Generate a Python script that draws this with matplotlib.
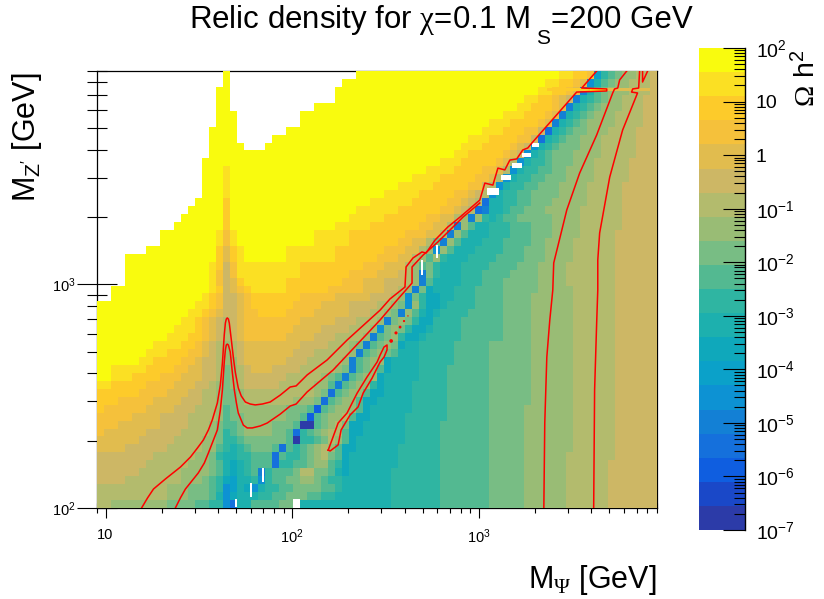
import numpy as np
import matplotlib
matplotlib.use("Agg")
import matplotlib.pyplot as plt
from matplotlib.colors import ListedColormap
from matplotlib.patches import Rectangle
from matplotlib.ticker import LogLocator, NullFormatter

plt.rcParams["font.family"] = ["Liberation Sans", "DejaVu Sans"]
plt.rcParams["mathtext.fontset"] = "custom"
plt.rcParams["mathtext.rm"] = "Liberation Sans"
plt.rcParams["mathtext.cal"] = "Liberation Serif"
plt.rcParams["mathtext.default"] = "regular"

# 20 colour levels, one per 0.45 in log10(omega h2), from 1e-7 to 1e2
level_colors = ["#2c3ba8", "#1a48c8", "#0f5ee0", "#1570dc", "#1380d5", "#0d92d3", "#0ba1c9",
                "#0fa8bb", "#1db0ae", "#2fb5a2", "#53b991", "#78bd84", "#99bc75", "#b3bb6d",
                "#cdb765", "#e1bc4e", "#f5c13b", "#fdcb2a", "#fbe023", "#f9fb0e"]
level_chars = "0123456789abcdefghij"

# level per row (top to bottom) as "level:end column", '.' = empty bin
level_rows = [
    ".:18 j:19 .:37 j:66 i:68 h:70 g:71 6:72 9:73 a:74 b:75 c:77 d:79 e:80",
    ".:18 j:19 .:35 j:64 i:66 h:68 g:69 f:70 5:71 8:72 a:73 b:74 c:76 d:79 e:80",
    ".:17 j:19 .:34 j:63 i:65 h:67 g:68 f:69 4:70 8:71 a:72 b:73 c:76 d:79 e:80",
    ".:17 j:19 .:34 j:61 i:63 h:65 g:66 f:67 e:68 4:69 8:70 9:71 a:72 b:73 c:75 d:78 e:80",
    ".:17 j:19 .:31 j:60 i:62 h:65 g:66 f:67 4:68 8:69 9:70 a:71 b:72 c:75 d:78 e:80",
    ".:17 j:20 .:29 j:58 i:61 h:64 g:65 f:66 4:67 8:68 9:69 a:70 b:71 c:74 d:78 e:80",
    ".:17 j:20 .:29 j:56 i:59 h:63 g:64 f:65 4:66 8:67 9:68 a:69 b:70 c:74 d:78 e:80",
    ".:16 j:20 .:27 j:55 i:58 h:61 g:63 e:64 3:65 8:66 9:67 a:68 b:70 c:73 d:77 e:80",
    ".:16 j:20 .:25 j:53 i:56 h:60 g:62 e:63 3:64 8:65 9:66 a:67 b:69 c:72 d:77 e:80",
    ".:16 j:21 .:24 j:52 i:55 h:59 g:60 f:61 e:62 5:63 8:64 9:65 a:66 b:69 c:72 d:77 e:80",
    ".:16 j:51 i:53 h:58 g:59 f:60 e:61 5:62 8:63 9:64 a:65 b:68 c:72 d:77 e:80",
    ".:15 j:49 i:52 h:57 g:58 f:59 d:60 5:61 8:62 9:64 a:65 b:68 c:71 d:76 e:80",
    ".:15 j:18 i:19 j:47 i:51 h:55 g:57 f:58 d:59 5:60 8:61 9:63 a:65 b:67 c:71 d:76 e:80",
    ".:15 j:18 i:19 j:45 i:49 h:54 g:56 f:57 d:58 5:59 8:60 9:62 a:64 b:67 c:71 d:76 e:80",
    ".:15 j:18 i:19 j:43 i:48 h:53 g:55 e:56 d:57 5:58 8:59 9:61 a:63 b:66 c:70 d:75 e:80",
    ".:15 j:18 i:19 j:41 i:46 h:51 g:53 f:54 e:55 d:56 5:57 8:58 9:60 a:62 b:66 c:70 d:75 e:80",
    ".:14 j:18 h:19 j:39 i:45 h:50 g:52 f:53 e:54 d:55 3:56 8:58 9:60 a:62 b:65 c:70 d:75 e:80",
    ".:13 j:18 h:19 j:37 i:43 h:49 g:51 f:52 e:53 d:54 3:55 4:56 8:58 9:59 a:61 b:64 c:69 d:75 e:80",
    ".:12 j:18 h:19 j:36 i:41 h:47 g:49 f:51 d:52 c:53 4:54 c:55 9:56 8:57 9:58 a:60 b:65 c:69 d:75 e:80",
    ".:11 j:18 h:19 j:34 i:39 h:46 g:48 f:50 d:51 4:52 c:53 a:54 8:56 9:59 a:62 b:65 c:69 d:75 e:80",
    ".:9 j:17 i:18 g:19 i:20 j:31 i:36 h:44 g:47 f:49 d:50 4:51 c:52 a:53 8:56 9:59 a:62 b:65 c:69 d:74 e:80",
    ".:9 j:17 i:18 g:19 i:20 j:31 i:36 h:43 g:45 f:47 d:48 b:49 4:50 c:51 a:52 8:55 9:58 a:62 b:64 c:68 d:74 e:80",
    ".:7 j:17 h:18 f:19 h:20 i:21 j:27 i:34 h:41 g:44 f:46 d:47 c:48 5:49 c:50 a:51 8:54 9:58 a:61 b:64 c:68 d:74 e:80",
    ".:4 j:17 h:18 f:19 h:20 i:21 j:27 i:34 h:40 g:43 f:45 d:46 c:47 a:48 c:49 9:50 8:53 9:57 a:61 b:64 c:68 d:74 e:80",
    ".:4 j:16 i:17 h:18 e:19 g:20 i:29 h:38 g:41 f:44 d:45 c:46 a:47 b:48 9:49 8:52 9:56 a:60 b:63 c:67 d:74 e:80",
    ".:4 j:16 i:17 g:18 e:19 g:20 i:29 h:36 g:40 f:43 e:44 d:45 c:46 4:47 b:48 9:49 8:52 9:55 a:59 b:63 c:67 d:74 e:80",
    ".:4 j:16 i:17 g:18 e:19 f:20 h:21 i:27 h:35 g:38 f:41 e:44 d:45 c:46 4:47 a:48 8:52 9:55 a:58 b:63 c:67 d:74 e:80",
    ".:2 j:16 i:17 h:18 e:19 f:20 g:21 h:22 i:27 h:33 g:38 f:41 e:43 d:44 c:45 4:46 b:47 7:48 8:51 9:54 a:58 b:63 c:68 d:74 e:80",
    ".:2 j:15 i:16 h:17 g:18 e:20 f:21 g:22 h:29 g:34 f:39 e:42 d:43 c:44 5:45 b:46 9:47 7:49 8:51 9:54 a:58 b:62 c:68 d:74 e:80",
    "j:14 i:16 h:17 g:18 e:20 f:21 g:22 h:28 g:32 f:36 e:40 d:42 c:43 b:44 5:45 c:46 9:47 7:49 8:50 9:54 a:58 b:62 c:68 d:74 e:80",
    "j:13 i:15 h:16 g:17 f:18 e:20 f:21 g:23 h:27 g:31 f:36 e:39 d:41 c:42 b:43 4:44 c:45 a:46 8:47 7:48 8:49 9:53 a:58 b:62 c:68 d:74 e:80",
    "j:12 i:14 h:15 g:16 f:17 e:18 d:19 e:20 f:21 g:29 f:34 e:37 d:40 c:41 4:42 b:43 c:44 b:45 9:46 7:48 9:52 a:58 b:62 c:68 d:74 e:80",
    "j:11 i:14 h:15 g:16 f:17 e:18 d:19 e:20 f:21 g:28 f:32 e:36 d:39 c:40 5:41 b:42 c:43 b:44 9:45 7:47 8:48 9:52 a:58 b:62 c:68 d:74 e:80",
    "j:10 i:13 h:15 g:16 f:17 e:18 d:19 e:20 f:21 g:27 f:31 e:34 d:38 c:39 4:40 a:41 b:42 c:43 9:44 7:46 8:47 9:52 a:58 b:62 c:68 d:74 e:80",
    "j:8 i:12 h:14 g:15 f:16 e:17 d:18 c:19 d:20 e:21 f:29 e:33 d:36 c:37 b:38 4:39 a:40 b:41 c:42 b:43 7:44 8:46 9:51 a:56 b:62 c:68 d:74 e:80",
    "j:7 i:10 h:13 g:15 f:16 e:17 d:18 c:19 d:20 e:21 f:28 e:31 d:36 c:37 4:38 a:39 b:40 c:41 b:42 a:43 8:46 9:51 a:56 b:62 c:68 d:74 e:80",
    "j:6 i:8 h:12 g:14 f:15 e:17 d:18 c:20 e:21 f:27 e:30 d:35 c:36 4:37 a:38 b:39 c:41 7:42 8:46 9:51 a:56 b:62 c:68 d:74 e:80",
    "j:2 i:7 h:11 g:13 f:15 e:17 d:18 b:19 c:20 d:21 e:22 f:25 e:29 d:34 c:35 b:36 4:37 a:38 b:39 c:40 a:41 7:42 8:46 9:50 a:56 b:62 c:68 d:74 e:80",
    "j:2 i:5 h:9 g:12 f:15 e:17 d:18 b:19 c:20 d:21 e:27 d:32 c:33 b:34 a:35 4:36 a:37 b:38 c:40 7:41 8:46 9:50 a:56 b:62 c:68 d:74 e:80",
    "i:2 h:7 g:11 f:14 e:16 d:17 c:18 b:19 c:20 d:21 e:26 d:31 c:33 a:34 4:35 a:36 b:37 c:39 9:40 7:41 8:45 9:50 a:56 b:62 c:68 d:74 e:80",
    "h:6 g:10 f:13 e:15 d:17 c:18 b:20 c:21 d:31 c:32 b:33 3:34 a:35 b:36 c:38 a:39 7:41 8:45 9:50 a:56 b:62 c:68 d:74 e:80",
    "h:3 g:8 f:12 e:15 d:17 c:18 b:20 c:21 d:28 c:31 b:32 3:33 a:34 b:35 c:37 a:38 7:40 8:45 9:50 a:56 b:62 c:68 d:74 e:80",
    "h:1 g:7 f:11 e:14 d:17 c:18 a:19 b:20 c:27 b:30 a:31 2:32 a:33 b:34 c:37 a:38 7:39 8:45 9:50 a:56 b:61 c:68 d:74 e:80",
    "g:5 f:9 e:13 d:17 c:18 a:19 b:21 c:27 b:29 a:30 2:31 a:32 b:33 c:35 d:36 a:37 7:39 8:44 9:50 a:56 b:61 c:68 d:74 e:80",
    "g:3 f:9 e:13 d:16 c:17 b:18 a:20 b:21 c:25 b:28 a:29 0:31 a:32 b:33 c:34 d:35 b:36 7:38 8:44 9:49 a:56 b:61 c:68 d:74 e:80",
    "g:1 f:7 e:12 d:16 c:17 b:18 9:19 a:20 b:21 c:25 b:27 a:28 3:29 9:30 a:31 b:32 c:33 d:35 a:36 7:38 8:44 9:49 a:56 b:61 c:68 d:74 e:80",
    "f:6 e:11 d:15 c:17 b:18 9:20 a:21 b:27 a:28 0:29 9:31 a:32 b:33 d:34 c:35 a:36 7:37 8:44 9:49 a:56 b:61 c:68 d:74 e:80",
    "f:4 e:10 d:15 c:17 a:18 9:19 8:20 9:21 a:22 b:25 a:26 3:27 a:28 9:29 a:30 b:31 c:32 d:33 c:34 a:35 7:37 8:43 9:49 a:56 b:61 c:68 d:74 e:80",
    "e:8 d:14 c:16 b:17 9:18 8:20 9:22 a:25 3:26 a:27 9:29 a:30 b:31 c:32 d:33 b:34 a:35 7:36 8:43 9:49 a:56 b:61 c:67 d:74 e:80",
    "e:7 d:13 c:16 b:17 a:18 8:19 7:20 8:21 9:22 a:25 3:26 9:28 a:30 b:31 c:33 a:34 9:35 7:36 8:43 9:49 a:56 b:61 c:67 d:73 e:80",
    "e:6 d:12 c:16 b:17 a:18 8:19 7:20 8:21 9:22 a:23 4:24 9:25 a:28 b:29 d:31 b:33 a:34 8:35 7:36 8:42 9:49 a:56 b:61 c:67 d:73 e:80",
    "e:4 d:12 c:15 b:16 a:17 9:18 7:19 6:20 8:22 9:23 5:24 9:25 a:27 b:29 c:31 b:32 a:33 9:35 8:42 9:49 a:56 b:61 c:67 d:73 e:80",
    "d:10 c:13 b:16 a:17 9:18 5:19 6:20 8:21 7:22 5:23 8:24 9:26 a:28 b:32 a:34 9:35 8:42 9:49 a:56 b:61 c:67 d:73 e:80",
    "d:10 c:13 b:16 a:17 8:18 5:19 7:20 8:23 9:25 a:27 b:30 a:32 9:34 8:42 9:49 a:56 b:61 c:67 d:73 e:80",
    "d:2 c:10 b:14 a:16 9:18 5:19 3:20 8:22 a:26 b:28 8:42 9:49 a:56 b:61 c:67 d:73 e:80",
]

# empty bins narrower than a grid cell: log10 of x0, x1, y0, y1 in GeV
hole_bins = [
    (3.043, 3.107, 3.400, 3.431), (3.118, 3.171, 3.467, 3.489), (3.177, 3.230, 3.520, 3.543),
    (3.230, 3.278, 3.570, 3.588), (3.284, 3.321, 3.614, 3.632), (2.690, 2.701, 3.042, 3.109),
    (2.770, 2.781, 3.118, 3.176), (1.775, 1.786, 2.049, 2.112), (1.840, 1.850, 2.116, 2.179),
    (1.695, 1.706, 2.004, 2.040), (2.005, 2.043, 2.000, 2.040),
]

# thin resonance strip near MZ' = 7.4 TeV
strip_logx = [3.364, 3.594, 3.685, 3.915]
strip_logy = [3.865, 3.878]
strip_levels = [17, 19, 15]

# contours, log10 of the masses in GeV
upper_logx = [1.193, 1.225, 1.257, 1.321, 1.401, 1.455, 1.492, 1.524, 1.551, 1.572, 1.599, 1.615, 1.626, 1.636,
              1.642, 1.647, 1.652, 1.658, 1.663, 1.674, 1.685, 1.695, 1.711, 1.727, 1.749, 1.775, 1.802, 1.840,
              1.882, 1.936, 1.989, 2.021, 2.080, 2.187, 2.294, 2.471, 2.524, 2.604, 2.610, 2.647, 2.695, 2.717,
              2.765, 2.834, 2.899, 3.005, 3.032, 3.075, 3.102, 3.139, 3.166, 3.203, 3.235, 3.262, 3.289, 3.524,
              3.685, 3.685, 3.551, 3.631]
upper_logy = [2.000, 2.045, 2.085, 2.130, 2.183, 2.228, 2.268, 2.304, 2.349, 2.394, 2.470, 2.550, 2.648, 2.774,
              2.827, 2.845, 2.850, 2.845, 2.827, 2.751, 2.671, 2.608, 2.537, 2.501, 2.474, 2.465, 2.461, 2.465,
              2.474, 2.505, 2.541, 2.546, 2.595, 2.662, 2.751, 2.885, 2.935, 2.988, 3.078, 3.118, 3.145, 3.140,
              3.198, 3.257, 3.301, 3.377, 3.453, 3.444, 3.520, 3.512, 3.556, 3.561, 3.601, 3.610, 3.637, 3.860,
              3.865, 3.874, 3.878, 3.954]
lower_logx = [1.374, 1.401, 1.428, 1.497, 1.529, 1.551, 1.572, 1.599, 1.615, 1.626, 1.636, 1.642, 1.647, 1.652,
              1.658, 1.668, 1.679, 1.690, 1.701, 1.711, 1.738, 1.759, 1.786, 1.829, 1.866, 1.936, 1.989, 2.021,
              2.080, 2.219, 2.471, 2.567, 2.642, 2.642, 2.701, 2.781, 2.856, 2.915, 3.005]
lower_logy = [2.000, 2.045, 2.085, 2.157, 2.201, 2.246, 2.291, 2.349, 2.438, 2.528, 2.653, 2.707, 2.729, 2.733,
              2.729, 2.698, 2.608, 2.528, 2.470, 2.425, 2.371, 2.358, 2.358, 2.367, 2.380, 2.420, 2.456, 2.465,
              2.519, 2.617, 2.841, 2.935, 3.006, 3.078, 3.131, 3.190, 3.252, 3.301, 3.364]
blob_logx = [2.193, 2.219, 2.246, 2.294, 2.348, 2.401, 2.455, 2.471, 2.492, 2.508, 2.508, 2.492, 2.471, 2.428,
             2.380, 2.353, 2.310, 2.262, 2.246, 2.203, 2.193]
blob_logy = [2.259, 2.318, 2.380, 2.425, 2.514, 2.586, 2.653, 2.684, 2.720, 2.729, 2.707, 2.675, 2.653, 2.581,
             2.514, 2.452, 2.416, 2.349, 2.282, 2.255, 2.259]
right1_logx = [3.348, 3.353, 3.364, 3.380, 3.396, 3.401, 3.471, 3.540, 3.631, 3.717, 3.727, 3.744, 3.754, 3.792]
right1_logy = [2.000, 2.380, 2.675, 2.841, 2.975, 3.096, 3.333, 3.498, 3.668, 3.856, 3.874, 3.878, 3.914, 3.954]
right2_logx = [3.615, 3.620, 3.631, 3.637, 3.637, 3.647, 3.701, 3.770, 3.850, 3.818, 3.824, 3.856, 3.861]
right2_logy = [2.000, 2.528, 2.827, 2.975, 3.109, 3.230, 3.480, 3.690, 3.856, 3.860, 3.874, 3.878, 3.954]
corner_logx = [3.877, 3.877, 3.904]
corner_logy = [3.954, 3.905, 3.954]
dot_logx = [2.530, 2.556, 2.578, 2.599, 2.620]
dot_logy = [2.747, 2.783, 2.809, 2.836, 2.859]
dot_sizes = [7, 5, 4, 2.5, 1]

x_ticks = [10, 100, 1000]
x_tick_labels = ["10", "10$^{2}$", "10$^{3}$"]
y_ticks = [100, 1000]
y_tick_labels = ["10$^{2}$", "10$^{3}$"]
bar_ticks = [1e-7, 1e-6, 1e-5, 1e-4, 1e-3, 1e-2, 1e-1, 1, 10, 100]
bar_tick_labels = ["10$^{-7}$", "10$^{-6}$", "10$^{-5}$", "10$^{-4}$", "10$^{-3}$", "10$^{-2}$", "10$^{-1}$",
                   "1", "10", "10$^{2}$"]


def expand(row):
    cells = []
    for token in row.split():
        ch, end = token.split(":")
        value = np.nan if ch == "." else level_chars.index(ch)
        cells += [value] * (int(end) - len(cells))
    return cells


levels = np.array([expand(r) for r in level_rows], dtype=float)
x_edges = np.geomspace(9, 9000, levels.shape[1] + 1)
y_edges = np.geomspace(9000, 100, levels.shape[0] + 1)
cmap = ListedColormap(level_colors)
cmap.set_bad((1, 1, 1, 0))

W, H = 824, 599
fig = plt.figure(figsize=(W / 100, H / 100), dpi=100)
ax = fig.add_axes([97 / W, 1 - 508 / H, 560 / W, 437 / H])
ax.set_xscale("log")
ax.set_yscale("log")
ax.set_axisbelow(True)
ax.pcolormesh(x_edges, y_edges, levels, cmap=cmap, vmin=-0.5, vmax=19.5, zorder=1, linewidth=0, rasterized=True)
ax.pcolormesh(10 ** np.array(strip_logx), 10 ** np.array(strip_logy), np.array([strip_levels]),
              cmap=cmap, vmin=-0.5, vmax=19.5, zorder=1.2)
for x0, x1, y0, y1 in hole_bins:
    ax.add_patch(Rectangle((10 ** x0, 10 ** y0), 10 ** x1 - 10 ** x0, 10 ** y1 - 10 ** y0,
                           fc="white", ec="none", zorder=1.5))

for lx, ly in [(upper_logx, upper_logy), (lower_logx, lower_logy), (blob_logx, blob_logy),
               (right1_logx, right1_logy), (right2_logx, right2_logy), (corner_logx, corner_logy)]:
    ax.plot(10 ** np.array(lx), 10 ** np.array(ly), color="#ff0000", lw=1.1, zorder=3)
ax.scatter(10 ** np.array(dot_logx), 10 ** np.array(dot_logy), s=dot_sizes, color="#ff0000", lw=0, zorder=3)

ax.set_xlim(9, 9000)
ax.set_ylim(100, 9000)
for side, spine in ax.spines.items():
    spine.set_zorder(0.5)
    spine.set_linewidth(0.9)
ax.set_xticks(x_ticks, x_tick_labels)
ax.set_yticks(y_ticks, y_tick_labels)
ax.xaxis.set_minor_locator(LogLocator(10, subs=np.arange(2, 10), numticks=12))
ax.yaxis.set_minor_locator(LogLocator(10, subs=np.arange(2, 10), numticks=12))
ax.xaxis.set_minor_formatter(NullFormatter())
ax.yaxis.set_minor_formatter(NullFormatter())
ax.tick_params(axis="x", which="major", direction="inout", length=14.4, width=0.8, labelsize=10.5, pad=7)
ax.tick_params(axis="x", which="minor", direction="inout", length=7.2, width=0.8)
ax.tick_params(axis="y", which="major", direction="inout", length=28.8, width=0.8, labelsize=10.5, pad=1)
ax.tick_params(axis="y", which="minor", direction="inout", length=14.4, width=0.8)

# colour bar
cax = fig.add_axes([699 / W, 1 - 530 / H, 45.5 / W, 482 / H])
bar_edges = 10.0 ** np.linspace(-7, 2, 21)
cax.set_yscale("log")
cax.pcolormesh([0, 1], bar_edges, np.arange(20).reshape(-1, 1), cmap=cmap, vmin=-0.5, vmax=19.5)
cax.set_ylim(1e-7, 100)
cax.set_xticks([])
for side in ["left", "top", "bottom"]:
    cax.spines[side].set_visible(False)
cax.spines["right"].set_linewidth(1.0)
cax.yaxis.tick_right()
cax.set_yticks(bar_ticks, bar_tick_labels)
cax.yaxis.set_minor_locator(LogLocator(10, subs=np.arange(2, 10), numticks=14))
cax.yaxis.set_minor_formatter(NullFormatter())
cax.tick_params(axis="y", which="major", direction="in", length=16, width=0.8, labelsize=14, pad=8)
cax.tick_params(axis="y", which="minor", direction="in", length=8, width=0.8)

# title in pieces, the subscript hangs lower than mathtext would put it
fig.text(189 / W, 1 - 28 / H, "Relic density for $\\mathcal{\u03c7}$=0.1 M", fontsize=22.5, ha="left", va="baseline")
fig.text(536 / W, 1 - 44 / H, "S", fontsize=15, ha="left", va="baseline")
fig.text(551 / W, 1 - 28 / H, "=200 GeV", fontsize=22.5, ha="left", va="baseline")
fig.text(657 / W, 1 - 588 / H, "M$_{\\mathcal{\u03a8}}$ [GeV]", fontsize=22, ha="right", va="baseline")
fig.text(35 / W, 1 - 72 / H, "M$_{Z'}$ [GeV]", fontsize=22, rotation=90, ha="right", va="baseline",
         rotation_mode="anchor")
fig.text(815 / W, 1 - 50 / H, "$\\mathcal{\u03a9}$ h$^{2}$", fontsize=20.5, rotation=90, ha="right", va="baseline",
         rotation_mode="anchor")

fig.savefig("out.png", dpi=100)
